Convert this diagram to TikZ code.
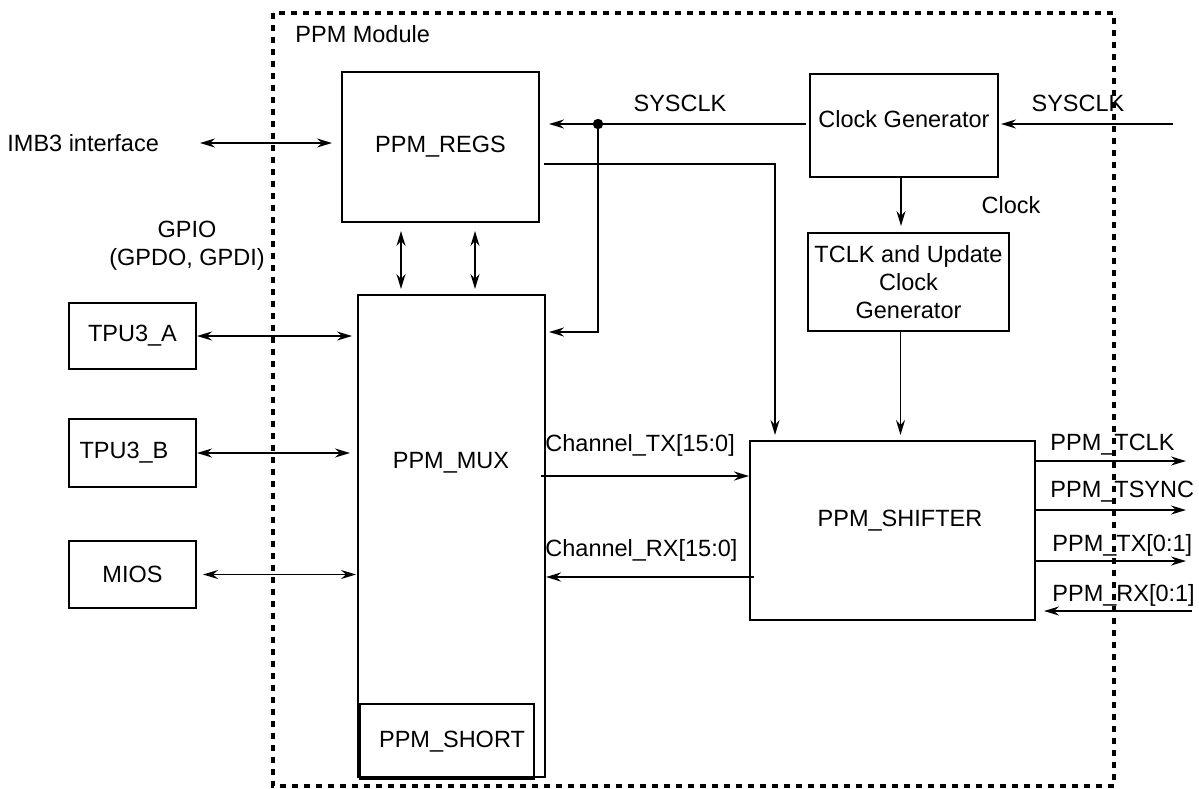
\documentclass[tikz,border=0pt]{standalone}
\usepackage{fontspec}
\setmainfont{Liberation Sans}
\usetikzlibrary{arrows.meta,calc}
\begin{document}
\begin{tikzpicture}[x=0.5pt,y=-0.5pt,
  >={Stealth[length=7.5pt,width=4.5pt,inset=2.5pt]},
  every node/.style={font=\fontsize{11.75pt}{14pt}\selectfont},
  box/.style={draw, line width=1pt, inner sep=0pt, rectangle},
  conn/.style={line width=0.95pt},
  bus/.style={line width=1.4pt},
  frame/.style={line width=1.6pt, dash pattern=on 2.8pt off 3.2pt},
  lbl/.style={inner sep=0pt}]
\useasboundingbox (0,0) rectangle (1199,788);
\draw[frame] (273,13) rectangle (1114,786);
\node[lbl,anchor=west] (mod) at (295,34) {PPM Module};

% blocks
\node[box,minimum width=98.5pt,minimum height=75pt] (regs) at (440.5,147) {PPM\_REGS};
\node[box,minimum width=93.5pt,minimum height=241pt] (mux) at (451.5,536) {};
\node[lbl] (muxt) at (451,463) {PPM\_MUX};
\node[box,minimum width=87pt,minimum height=37.5pt] (short) at (447,741.5) {};
\node[lbl] (shortt) at (452,742) {PPM\_SHORT};
\node[box,minimum width=63.5pt,minimum height=33pt] (tpua) at (132.5,336) {TPU3\_A};
\node[box,minimum width=63.5pt,minimum height=34pt] (tpub) at (132.5,453) {};
\node[lbl] (tpubt) at (124,453) {TPU3\_B};
\node[box,minimum width=63.5pt,minimum height=33.5pt] (mios) at (132.5,574.5) {MIOS};
\node[box,minimum width=94pt,minimum height=51.5pt] (clkgen) at (904,125.5) {};
\node[lbl] (clkgent) at (904,119) {Clock Generator};
\node[box,minimum width=100.5pt,minimum height=49pt,align=center] (tclk) at (908.5,282) {TCLK and Update\\Clock\\Generator};
\node[box,minimum width=142.5pt,minimum height=89.5pt] (shifter) at (892.5,530.5) {};
\node[lbl] (shiftert) at (900,521) {PPM\_SHIFTER};

% labels
\node[lbl,anchor=west] (imbt) at (7,143) {IMB3 interface};
\node[lbl,align=center] (gpio) at (187,246) {GPIO\\(GPDO, GPDI)};
\node[lbl] (sys1) at (680,103) {SYSCLK};
\node[lbl] (sys2) at (1078,103) {SYSCLK};
\node[lbl] (clk) at (1011,205) {Clock};
\node[lbl,anchor=west] (ctx) at (545,445) {Channel\_TX[15:0]};
\node[lbl,anchor=west] (crx) at (545,550) {Channel\_RX[15:0]};
\node[lbl,anchor=west] (otclk) at (1050,445) {PPM\_TCLK};
\node[lbl,anchor=west] (otsync) at (1050,492) {PPM\_TSYNC};
\node[lbl,anchor=west] (otx) at (1052,545) {PPM\_TX[0:1]};
\node[lbl,anchor=west] (orx) at (1052,595) {PPM\_RX[0:1]};

% connectors
\coordinate (imbL) at (200,143);
\draw[conn,<->,shorten >=4.5pt] (imbL) -- (imbL -| regs.west);
\coordinate (sysR) at (1173,124);
\draw[conn,->,shorten >=1pt] (sysR) -- (sysR -| clkgen.east);
\draw[conn,->,shorten <=1.5pt,shorten >=4.5pt] (sysR -| clkgen.west) -- (sysR -| regs.east);
\coordinate (jn) at (598,124);
\fill (jn) circle (2.6pt);
\coordinate (mx1) at ($(mux.north east)+(0,38)$);
\draw[conn,->,shorten >=1.5pt] (jn) |- (mx1);
\coordinate (rg1) at ($(regs.north east)+(0,93)$);
\coordinate (sh1) at ($(shifter.north west)+(26,0)$);
\draw[conn,->,shorten <=2pt,shorten >=2.5pt] (rg1) -| (sh1);
\draw[conn,<->,shorten <=4pt,shorten >=2.5pt] ($(regs.south west)+(60,0)$) -- ($(mux.north west)+(44,0)$);
\draw[conn,<->,shorten <=4pt,shorten >=2.5pt] ($(regs.south west)+(134,0)$) -- ($(mux.north west)+(118,0)$);
\draw[conn,<->,shorten >=2.5pt] (tpua.east) -- (tpua.east -| mux.west);
\draw[conn,<->,shorten >=3.5pt] (tpub.east) -- (tpub.east -| mux.west);
\draw[conn,<->,shorten <=3pt,shorten >=0.5pt] (mios.east) -- (mios.east -| mux.west);
\coordinate (c1) at ($(clkgen.south)+(-3,0)$);
\draw[conn,->,shorten >=3pt] (c1) -- (c1 |- tclk.north);
\coordinate (c2) at ($(tclk.south)+(-8,0)$);
\draw[conn,->,shorten >=2.5pt] (c2) -- (c2 |- shifter.north);
\coordinate (tx0) at ($(mux.north east)+(-5,182)$);
\draw[bus,->] (tx0) -- (tx0 -| shifter.west);
\coordinate (rx0) at ($(shifter.north west)+(5,137)$);
\draw[bus,->] (rx0) -- (rx0 -| mux.east);
\coordinate (o1) at ($(shifter.north east)+(0,21)$);
\draw[conn,->] (o1) -- ++(150,0);
\coordinate (o2) at ($(shifter.north east)+(0,70)$);
\draw[conn,->] (o2) -- ++(150,0);
\coordinate (o3) at ($(shifter.north east)+(0,121)$);
\draw[conn,->] (o3) -- ++(150,0);
\coordinate (rxin) at (1192,611);
\draw[conn,->,shorten >=4pt] (rxin) -- (rxin -| shifter.east);
\end{tikzpicture}
\end{document}
